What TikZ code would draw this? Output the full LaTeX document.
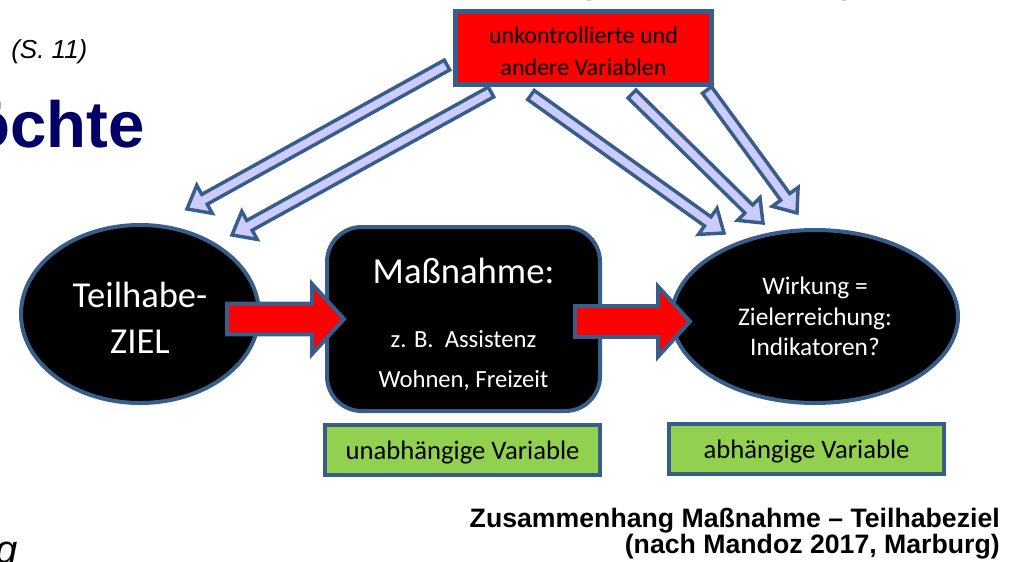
\documentclass[tikz,border=0pt]{standalone}
\usepackage{fontspec}
\setmainfont{Carlito}
\newfontfamily\arialfont{Liberation Sans}
\usetikzlibrary{shapes.geometric,calc}

\definecolor{rand}{RGB}{56,93,138}
\definecolor{lila}{RGB}{204,204,255}
\definecolor{gruen}{RGB}{146,208,80}
\definecolor{titelblau}{RGB}{0,0,102}

% Blockpfeil: Stil, Anfang, Spitze, halbe Schaftbreite, halbe Kopfbreite, Kopflaenge
\newcommand\blockpfeil[6]{%
  \coordinate (bp-h) at ($(#3)!#6!(#2)$);
  \draw[#1] ($(#2)!#4!90:(#3)$) -- ($(bp-h)!#4!90:(#3)$) -- ($(bp-h)!#5!90:(#3)$)
    -- (#3) -- ($(bp-h)!#5!-90:(#3)$) -- ($(bp-h)!#4!-90:(#3)$)
    -- ($(#2)!#4!-90:(#3)$) -- cycle;}

\begin{document}
\begin{tikzpicture}[x=0.75pt,y=-0.75pt,
  oval/.style={ellipse,draw=rand,line width=3pt,fill=black,text=white,align=center},
  massbox/.style={rectangle,rounded corners=26pt,draw=rand,line width=3pt,fill=black,
    text=white,align=center,minimum width=204.75pt,minimum height=138pt},
  stoerbox/.style={rectangle,draw=rand,line width=3.75pt,fill=red,align=center,
    minimum width=192pt,minimum height=54.75pt,font=\fontsize{18}{24}\selectfont},
  varbox/.style={rectangle,draw=rand,line width=3pt,fill=gruen,text height=18pt,
    minimum width=206.25pt,minimum height=37.5pt,font=\fontsize{20}{24}\selectfont},
  pfeilrot/.style={draw=rand,line width=3pt,fill=red},
  pfeilblau/.style={draw=rand,line width=2.6pt,fill=lila}]
\useasboundingbox (0,0) rectangle (1010,561);
\clip (0,0) rectangle (1010,561);

% Reste der Folie
\node[anchor=base west,inner sep=0pt,font=\fontsize{36}{40}\selectfont] (rest1) at (578,-8) {g,};
\node[anchor=base west,inner sep=0pt,font=\fontsize{36}{40}\selectfont] (rest2) at (833,-8) {g};
\node[anchor=base west,inner sep=0pt,font=\arialfont\itshape\fontsize{19.5}{24}\selectfont] (seite) at (11,58) {(S. 11)};
\node[anchor=base east,inner sep=0pt,text=titelblau,
  font=\arialfont\bfseries\fontsize{49}{60}\selectfont] (titel) at (145,147) {möchte};
\node[anchor=base east,inner sep=0pt,font=\arialfont\itshape\fontsize{30}{36}\selectfont] (rest3) at (18,563) {g};

% Knoten
\node[oval,minimum width=178.5pt,minimum height=133.5pt,
  font=\fontsize{27.4}{34.5}\selectfont] (ziel) at (140,314) {\rule{0pt}{25pt}Teilhabe-\\ZIEL};
\node[massbox,font=\fontsize{18.5}{30}\selectfont] (massnahme) at (463.5,319)
  {{\fontsize{27.5}{30}\selectfont\rule{0pt}{27pt}Maßnahme:}\\[18pt]z. B.~~Assistenz\\Wohnen, Freizeit};
\node[oval,minimum width=214.5pt,minimum height=129.75pt,
  font=\fontsize{19}{22.9}\selectfont] (wirkung) at (815,316.5)
  {Wirkung =\\Zielerreichung:\\Indikatoren?};
\node[stoerbox] (stoer) at (583.5,48) {\rule{0pt}{17pt}unkontrollierte und\\andere Variablen};
\node[varbox] (uv) at (462.5,450) {unabhängige Variable};
\node[varbox] (av) at (806.5,449) {abhängige Variable};

% Quelle
\node[anchor=base east,align=right,inner sep=0pt,
  font=\arialfont\bfseries\fontsize{20}{19.5}\selectfont] (quelle) at (1000,553)
  {Zusammenhang Maßnahme – Teilhabeziel\\(nach Mandoz 2017, Marburg)};

% Pfeile von den Stoervariablen
\coordinate (s1) at ($(stoer.west)+(-6,17)$);
\coordinate (s2) at ($(stoer.south west)+(38,5)$);
\coordinate (s3) at ($(stoer.south west)+(78,8)$);
\coordinate (s4) at ($(stoer.south west)+(179,7)$);
\coordinate (s5) at ($(stoer.south east)+(-7,3)$);
\coordinate (z1) at ($(ziel.north)+(47,-14)$);
\coordinate (z2) at ($(ziel.north)+(92,12)$);
\coordinate (z3) at ($(wirkung.north)+(-91,5)$);
\coordinate (z4) at ($(wirkung.north)+(-52,-5)$);
\coordinate (z5) at ($(wirkung.north)+(-18,-15)$);
\foreach \a/\b in {s1/z1,s2/z2,s3/z3,s4/z4,s5/z5}
  \blockpfeil{pfeilblau}{\a}{\b}{4.2pt}{12pt}{15pt};

% rote Pfeile
\coordinate (r1) at ($(massnahme.west)+(-98,0)$);
\coordinate (r2) at ($(massnahme.west)+(19,0)$);
\coordinate (r3) at ($(wirkung.west)+(-95,5)$);
\coordinate (r4) at ($(wirkung.west)+(20,5)$);
\blockpfeil{pfeilrot}{r1}{r2}{11.6pt}{26.25pt}{24pt}
\blockpfeil{pfeilrot}{r3}{r4}{11.6pt}{26.25pt}{24pt}
\end{tikzpicture}
\end{document}
